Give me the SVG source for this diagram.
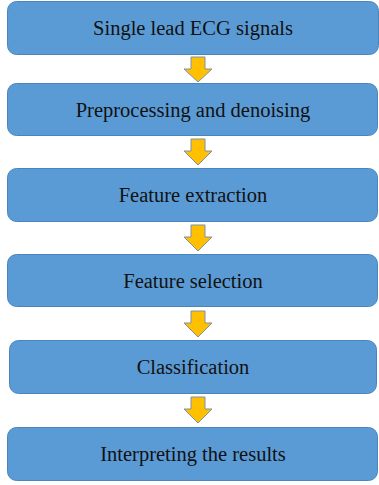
<svg xmlns="http://www.w3.org/2000/svg" width="379" height="485" viewBox="0 0 379 485">
<defs>
<style>
.box{fill:#5B9BD5;stroke:#4A86BE;stroke-width:1}
.lbl{font-family:"Liberation Serif","Times New Roman",serif;font-size:20.5px;fill:#111;text-anchor:middle}
.arr{fill:#FFC000;stroke:#7F8FA9;stroke-width:1;stroke-linejoin:miter}
</style>
</defs>
<rect width="379" height="485" fill="#fff"/>
<g id="connectors">
<path class="arr" d="M191,57 H205 V69 H212 L198,82 L184,69 H191 Z"/>
<path class="arr" d="M191,139 H205 V151 H212 L198,165 L184,151 H191 Z"/>
<path class="arr" d="M191,225 H205 V237 H212 L198,251 L184,237 H191 Z"/>
<path class="arr" d="M191,311 H205 V323 H212 L198,337 L184,323 H191 Z"/>
<path class="arr" d="M191,397 H205 V409 H212 L198,423 L184,409 H191 Z"/>
</g>
<g id="n1"><rect class="box" x="7.5" y="1.5" width="371" height="53" rx="9"/><text class="lbl" x="193" y="35">Single lead ECG signals</text></g>
<g id="n2"><rect class="box" x="7.5" y="83.5" width="370" height="52" rx="9"/><text class="lbl" x="193" y="117">Preprocessing and denoising</text></g>
<g id="n3"><rect class="box" x="7.5" y="168.5" width="370" height="53" rx="9"/><text class="lbl" x="193" y="202">Feature extraction</text></g>
<g id="n4"><rect class="box" x="7.5" y="254.5" width="370" height="52" rx="9"/><text class="lbl" x="193" y="288">Feature selection</text></g>
<g id="n5"><rect class="box" x="9.5" y="340.5" width="367" height="53" rx="9"/><text class="lbl" x="193" y="374">Classification</text></g>
<g id="n6"><rect class="box" x="7.5" y="427.5" width="370" height="53" rx="9"/><text class="lbl" x="193" y="461">Interpreting the results</text></g>
</svg>
